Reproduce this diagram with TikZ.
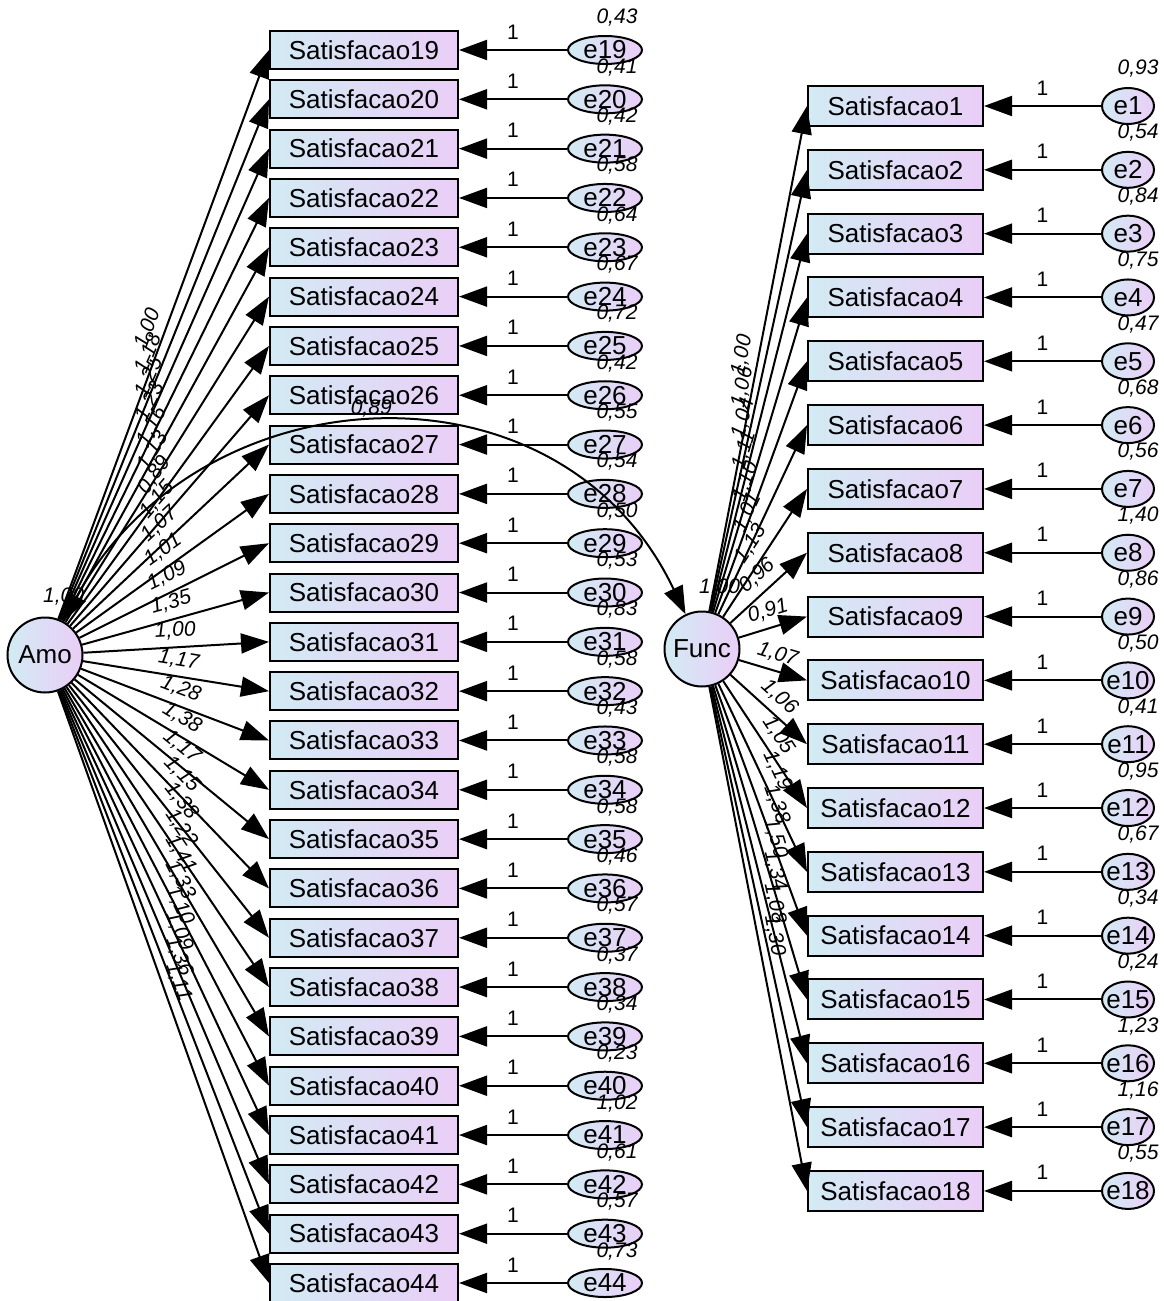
\documentclass[tikz,border=0pt]{standalone}
\usepackage{fontspec}
\setmainfont{Liberation Sans}
\usetikzlibrary{arrows.meta,shapes.geometric,calc}
\definecolor{bl}{RGB}{210,235,244}
\definecolor{pu}{RGB}{234,206,247}
\begin{document}
\begin{tikzpicture}[x=1pt,y=-1pt,
  every node/.style={inner sep=0pt},
  ln/.style={line width=2pt},
  tip/.tip={Triangle[length=28pt,width=20pt]},
  arr/.style={ln,-tip},
  obs/.style={draw,line width=2pt,rectangle,left color=bl,right color=pu,font=\fontsize{26}{30}\selectfont},
  lat/.style={draw,line width=2pt,circle,minimum size=75pt,left color=bl,right color=pu,font=\fontsize{26}{30}\selectfont},
  err/.style={draw,line width=2pt,ellipse,left color=bl,right color=pu,font=\fontsize{26}{30}\selectfont},
  num/.style={font=\fontsize{21}{24}\selectfont\itshape},
  one/.style={font=\fontsize{21}{24}\selectfont}
]
\useasboundingbox (0,0) rectangle (1164,1301);

% latent variables
\node[lat] (amo) at (45,655) {Amo};
\node[lat] (func) at (702,649) {Func};
\node[num,anchor=west] (vamo) at (43,597) {1,00};
\node[num,anchor=west] (vfunc) at (699,588) {1,00};

% left block
\foreach \i/\va [count=\k from 0] in {19/0{,}43,20/0{,}41,21/0{,}42,22/0{,}58,23/0{,}64,24/0{,}67,25/0{,}72,26/0{,}42,27/0{,}55,28/0{,}54,29/0{,}50,30/0{,}53,31/0{,}83,32/0{,}58,33/0{,}43,34/0{,}58,35/0{,}58,36/0{,}46,37/0{,}57,38/0{,}37,39/0{,}34,40/0{,}23,41/1{,}02,42/0{,}61,43/0{,}57,44/0{,}73}{
  \pgfmathsetmacro\yy{50+49.32*\k}
  \node[obs,minimum width=188pt,minimum height=38pt] (s\i) at (364,\yy) {Satisfacao\i};
  \node[err,minimum width=74pt,minimum height=28pt] (e\i) at (605,\yy) {\makebox[0pt]{e\i}};
  \node[num] (v\i) at (617,\yy-32) {\va};
}

% right block
\foreach \i/\va [count=\k from 0] in {1/0{,}93,2/0{,}54,3/0{,}84,4/0{,}75,5/0{,}47,6/0{,}68,7/0{,}56,8/1{,}40,9/0{,}86,10/0{,}50,11/0{,}41,12/0{,}95,13/0{,}67,14/0{,}34,15/0{,}24,16/1{,}23,17/1{,}16,18/0{,}55}{
  \pgfmathsetmacro\yy{106+63.82*\k}
  \node[obs,minimum width=175pt,minimum height=40pt] (s\i) at (895.5,\yy) {Satisfacao\i};
  \node[err,minimum width=52pt,minimum height=36pt] (e\i) at (1128,\yy) {\makebox[0pt]{e\i}};
  \node[num] (v\i) at (1138,\yy-37) {\va};
}

% loadings Amo
\foreach \i/\lo in {19/1{,}00,20/1{,}18,21/1{,}25,22/1{,}23,23/1{,}16,24/1{,}13,25/0{,}89,26/1{,}15,27/1{,}07,28/1{,}01,29/1{,}09,30/1{,}35,31/1{,}00,32/1{,}17,33/1{,}28,34/1{,}38,35/1{,}17,36/1{,}15,37/1{,}38,38/1{,}22,39/1{,}41,40/1{,}33,41/1{,}10,42/1{,}09,43/1{,}36,44/1{,}11}{
  \draw[arr] (amo) -- node[num,sloped,above=7pt] {\lo} (s\i.west);
  \draw[arr] (e\i) -- node[one,above=10pt] {1} (s\i);
}

% loadings Func
\foreach \i/\lo in {1/1{,}00,2/1{,}06,3/1{,}04,4/1{,}11,5/1{,}10,6/1{,}01,7/1{,}13,8/0{,}96,9/0{,}91,10/1{,}07,11/1{,}06,12/1{,}05,13/1{,}19,14/1{,}38,15/1{,}50,16/1{,}34,17/1{,}08,18/1{,}30}{
  \draw[arr] (func) -- node[num,sloped,above=7pt] {\lo} (s\i.west);
  \draw[arr] (e\i) -- node[one,above=10pt] {1} (s\i);
}

% covariance
\draw[ln,tip-tip] (amo) .. controls (200,370) and (560,350) .. (func)
  node[num,pos=0.49,above=7pt] (cov) {0,89};
\end{tikzpicture}
\end{document}
